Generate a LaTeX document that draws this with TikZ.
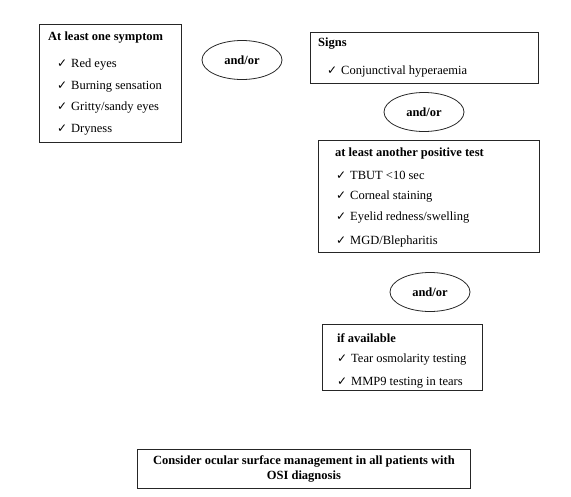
\documentclass[tikz,border=0pt]{standalone}
\usepackage{fontspec}
\setmainfont{Liberation Serif}
\newfontfamily\symfont{DejaVu Sans}
\usetikzlibrary{shapes.geometric}
\newcommand\chk{\makebox[14pt][l]{\symfont\fontsize{12}{12}\selectfont ✓}}
\begin{document}
\begin{tikzpicture}[x=1pt,y=-1pt,
  box/.style={draw=black!85, line width=0.8pt, fill=white, anchor=north west, inner sep=0pt},
  ovalbox/.style={ellipse, draw=black!85, line width=0.8pt, minimum width=80pt, minimum height=39pt, inner sep=0pt, font=\fontsize{12.5}{14}\selectfont\bfseries},
  title/.style={anchor=west, font=\fontsize{12.5}{14}\selectfont\bfseries, inner sep=0pt},
  item/.style={anchor=west, font=\fontsize{12.5}{14}\selectfont, inner sep=0pt},
  final/.style={anchor=center, font=\fontsize{12.5}{15}\selectfont\bfseries, align=center, inner sep=0pt}
]
\useasboundingbox (0,0) rectangle (571,496);
% Box 1: symptoms
\node[box, minimum width=142pt, minimum height=118pt] (symp) at (39,24) {};
\node[title] (sympT) at (48,38) {At least one symptom};
\node[item] (s1) at (57,65) {\chk Red eyes};
\node[item] (s2) at (57,87) {\chk Burning sensation};
\node[item] (s3) at (57,108) {\chk Gritty/sandy eyes};
\node[item] (s4) at (57,130) {\chk Dryness};
% oval 1
\node[ovalbox] (or1) at (242,60) {and/or};
% Box 2: signs
\node[box, minimum width=228pt, minimum height=51pt] (signs) at (310,32) {};
\node[title] (signsT) at (318,44) {Signs};
\node[item] (g1) at (327,72) {\chk Conjunctival hyperaemia};
% oval 2
\node[ovalbox] (or2) at (424,112) {and/or};
% Box 3: tests
\node[box, minimum width=221pt, minimum height=112pt] (tests) at (318,140) {};
\node[title] (testsT) at (335,153) {at least another positive test};
\node[item] (t1) at (336,175) {\chk TBUT <10 sec};
\node[item] (t2) at (336,197) {\chk Corneal staining};
\node[item] (t3) at (336,218) {\chk Eyelid redness/swelling};
\node[item] (t4) at (336,241) {\chk MGD/Blepharitis};
% oval 3
\node[ovalbox] (or3) at (430,292) {and/or};
% Box 4: if available
\node[box, minimum width=160pt, minimum height=66pt] (avail) at (322,324) {};
\node[title] (availT) at (337,338) {if available};
\node[item] (a1) at (337,360) {\chk Tear osmolarity testing};
\node[item] (a2) at (337,383) {\chk MMP9 testing in tears};
% Box 5: final
\node[box, minimum width=333pt, minimum height=39pt] (final) at (137,449) {};
\node[final] (finalT) at (final.center) {Consider ocular surface management in all patients with\\OSI diagnosis};
\end{tikzpicture}
\end{document}
